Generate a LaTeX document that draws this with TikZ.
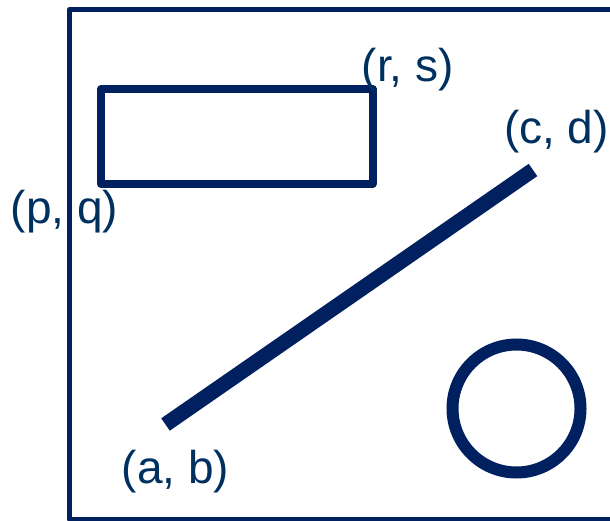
\documentclass[tikz,border=0pt]{standalone}
\usepackage{fontspec}
\setmainfont{Liberation Sans}
\definecolor{navy}{HTML}{002060}
\definecolor{navytext}{HTML}{00305F}
\begin{document}
\begin{tikzpicture}[x=1pt,y=-1pt,
  frame/.style={draw=navy,line width=5pt,line join=round},
  box/.style={draw=navy,line width=8pt,line join=round},
  seg/.style={draw=navy,line width=15pt,line cap=butt},
  ring/.style={circle,draw=navy,line width=12pt,minimum size=128pt,inner sep=0pt},
  lbl/.style={anchor=base,inner sep=0pt,text=navytext,font=\fontsize{46}{50}\selectfont}]
\useasboundingbox (0,0) rectangle (610,521);
\coordinate (F1) at (69.5,9.5);
\coordinate (F2) at (625,519.5);
\draw[frame] (F1) rectangle (F2);
\coordinate (P) at (101,184);
\coordinate (R) at (372.5,89);
\draw[box] (P) rectangle (R);
\coordinate (A) at (165.5,424.5);
\coordinate (C) at (533,170);
\draw[seg] (A) -- (C);
\node[ring] (O) at (516.5,408.5) {};
\node[lbl] (lpq) at (64.5,224) {(p, q)};
\node[lbl] (lrs) at (407.8,82) {(r, s)};
\node[lbl] (lcd) at (556.4,144) {(c, d)};
\node[lbl] (lab) at (175.4,483) {(a, b)};
\end{tikzpicture}
\end{document}
